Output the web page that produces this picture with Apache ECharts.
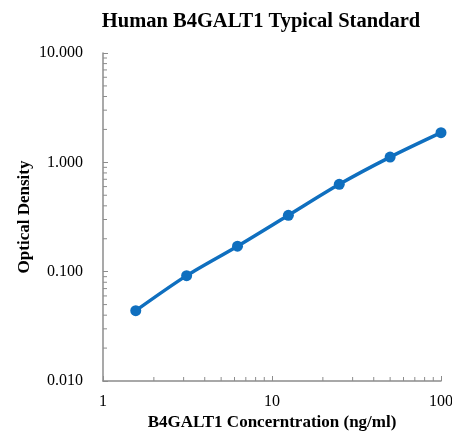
<!DOCTYPE html>
<html>
<head>
<meta charset="utf-8">
<script src="https://cdn.jsdelivr.net/npm/echarts@6/dist/echarts.min.js"></script>
<style>html,body{margin:0;padding:0;background:#fff}#c{width:452px;height:433px}</style>
</head>
<body>
<div id="c"></div>
<script>
const concentrations = [1.5625, 3.125, 6.25, 12.5, 25, 50, 100];
const odValues = [0.044, 0.092, 0.171, 0.328, 0.630, 1.117, 1.867];
const xTickLabels = [1, 10, 100];
const yTickLabels = [0.01, 0.1, 1, 10];

const serif = '"Liberation Serif", "Times New Roman", serif';
const axisColor = '#8c8c8c';
const chart = echarts.init(document.getElementById('c'));
const option = {
  animation: false,
  title: {
    text: 'Human B4GALT1 Typical Standard',
    left: 256, top: 6, textAlign: 'center',
    textStyle: { fontFamily: serif, fontSize: 20.5, fontWeight: 'bold', color: '#000' }
  },
  grid: { left: 103, right: 11, top: 53, bottom: 52, containLabel: false, outerBoundsMode: 'none' },
  xAxis: {
    type: 'log', logBase: 10, min: 1, max: 100,
    name: 'B4GALT1 Concerntration (ng/ml)', nameLocation: 'middle', nameGap: 33,
    nameMoveOverlap: false,
    nameTextStyle: { fontFamily: serif, fontSize: 17, fontWeight: 'bold', color: '#000' },
    axisLine: { lineStyle: { color: axisColor, width: 1.5 } },
    axisTick: { show: true, inside: true, length: 5, lineStyle: { color: axisColor } },
    axisLabel: { fontFamily: serif, fontSize: 16, color: '#000', margin: 13,
      formatter: v => xTickLabels.includes(Math.round(v)) ? String(Math.round(v)) : '' },
    splitLine: { show: false }
  },
  yAxis: {
    type: 'log', logBase: 10, min: 0.01, max: 10,
    name: 'Optical Density', nameLocation: 'middle', nameGap: 70,
    nameMoveOverlap: false,
    nameTextStyle: { fontFamily: serif, fontSize: 17, fontWeight: 'bold', color: '#000' },
    axisLine: { show: true, lineStyle: { color: axisColor, width: 1.5 } },
    axisTick: { show: true, inside: true, length: 5, lineStyle: { color: axisColor } },
    axisLabel: { fontFamily: serif, fontSize: 16, color: '#000', margin: 20,
      formatter: v => yTickLabels.some(t => Math.abs(t - v) < t * 1e-6) ? v.toFixed(3) : '' },
    splitLine: { show: false }
  },
  series: [{
    type: 'line',
    data: concentrations.map((c, i) => [c, odValues[i]]),
    smooth: 0.3,
    symbol: 'circle', symbolSize: 11,
    lineStyle: { color: '#0f6fbf', width: 3.5 },
    itemStyle: { color: '#0f6fbf' }
  }]
};
chart.setOption(option);

// minor ticks at 2..9 x 10^k, positioned through the library's own scales
const g = [];
const tickStyle = { stroke: axisColor, lineWidth: 1 };
const y0 = chart.convertToPixel({ yAxisIndex: 0 }, 0.01);
const x0 = chart.convertToPixel({ xAxisIndex: 0 }, 1);
[1, 10].forEach(base => {
  for (let m = 2; m <= 9; m++) {
    const px = chart.convertToPixel({ xAxisIndex: 0 }, base * m);
    g.push({ type: 'line', shape: { x1: px, y1: y0, x2: px, y2: y0 - 4 }, style: tickStyle, silent: true });
  }
});
[0.01, 0.1, 1].forEach(base => {
  for (let m = 2; m <= 9; m++) {
    const py = chart.convertToPixel({ yAxisIndex: 0 }, base * m);
    g.push({ type: 'line', shape: { x1: x0, y1: py, x2: x0 + 4, y2: py }, style: tickStyle, silent: true });
  }
});
chart.setOption({ graphic: g });
</script>
</body>
</html>
